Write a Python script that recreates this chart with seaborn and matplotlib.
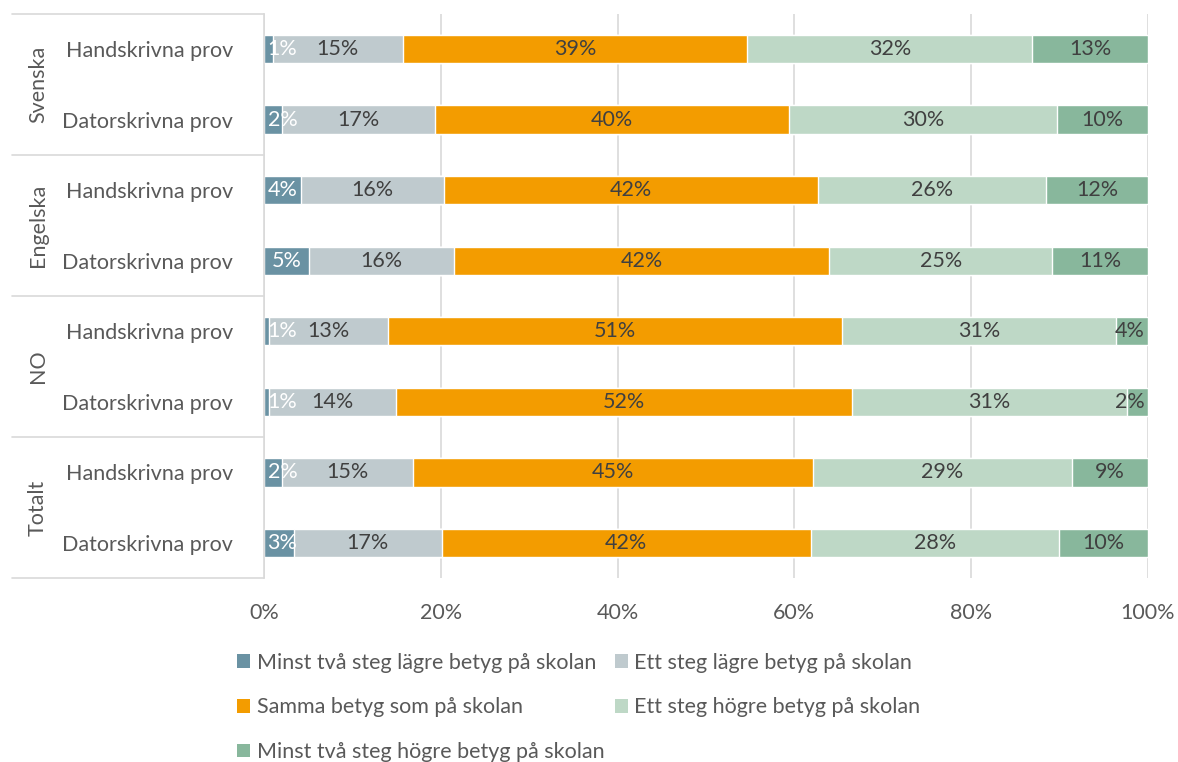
import numpy as np
import pandas as pd
import matplotlib
matplotlib.use('Agg')
import matplotlib.pyplot as plt
import matplotlib.transforms as mtransforms
from matplotlib.patches import Patch
import seaborn as sns

# data
groups = ['Svenska', 'Engelska', 'NO', 'Totalt']
rows = ['Handskrivna prov', 'Datorskrivna prov']
series = ['Minst två steg lägre betyg på skolan',
          'Ett steg lägre betyg på skolan',
          'Samma betyg som på skolan',
          'Ett steg högre betyg på skolan',
          'Minst två steg högre betyg på skolan']
minst_lagre = [1.0, 2.1, 4.2, 5.1, 0.6, 0.6, 2.0, 3.4]
ett_lagre = [14.7, 17.2, 16.2, 16.4, 13.4, 14.3, 14.9, 16.7]
samma = [39.0, 40.1, 42.3, 42.4, 51.4, 51.6, 45.2, 41.8]
ett_hogre = [32.2, 30.3, 25.8, 25.3, 31.0, 31.1, 29.3, 28.0]
minst_hogre = [13.1, 10.3, 11.5, 10.8, 3.6, 2.4, 8.6, 10.1]
colors = ['#6a92a3', '#bfcace', '#f39c00', '#bed8c6', '#88b79c']
text_colors = ['white', '#404040', '#404040', '#404040', '#404040']

sns.set_style('white')
plt.rcParams['font.family'] = ['Lato', 'DejaVu Sans']
fs = 15.5

keys = [f'{g}|{r}' for g in groups for r in rows]
vals = np.array([minst_lagre, ett_lagre, samma, ett_hogre, minst_hogre]).T
cum = np.cumsum(vals, axis=1)
df = pd.DataFrame(cum, columns=series)
df['key'] = keys

fig, ax = plt.subplots(figsize=(11.78, 7.62), dpi=100)
fig.subplots_adjust(left=0.224, right=0.9745, top=0.982, bottom=0.241)

# stacked bars: draw cumulative totals, largest first
for i in reversed(range(len(series))):
    sns.barplot(data=df, x=series[i], y='key', orient='h', color=colors[i],
                width=0.4, saturation=1, ax=ax, zorder=2)

# segment labels (kept inside the plot area like Excel does)
for r in range(len(keys)):
    for i in range(len(series)):
        left = cum[r, i] - vals[r, i]
        xc = min(max(left + vals[r, i] / 2, 2.1), 97.9)
        ax.text(xc, r, f'{vals[r, i]:.0f}%', ha='center', va='center',
                fontsize=fs, color=text_colors[i], zorder=3)

ax.set_xlim(0, 100)
ax.set_ylim(7.5, -0.5)
ax.set_xticks(np.arange(0, 101, 20))
ax.set_xticklabels([f'{t}%' for t in range(0, 101, 20)])
ax.set_yticks(range(len(keys)))
ax.set_yticklabels([k.split('|')[1] for k in keys])
ax.tick_params(axis='both', length=0, labelsize=fs, labelcolor='#595959')
ax.tick_params(axis='y', pad=22)
ax.tick_params(axis='x', pad=18)
ax.set_xlabel('')
ax.set_ylabel('')
ax.xaxis.grid(True, color='#d9d9d9', linewidth=1.2, zorder=0)
ax.set_axisbelow(True)
for s in ['top', 'right', 'bottom']:
    ax.spines[s].set_visible(False)
ax.spines['left'].set_color('#d9d9d9')
ax.spines['left'].set_linewidth(1.2)

# group labels and separators
trans = mtransforms.blended_transform_factory(ax.transAxes, ax.transData)
for gi, g in enumerate(groups):
    ax.text(-0.2557, gi * 2 + 0.5, g, rotation=90, ha='center', va='center',
            fontsize=fs, color='#595959', transform=trans)
for yb in np.arange(-0.5, 8, 2):
    ax.plot([-0.285, 0], [yb, yb], color='#d9d9d9', linewidth=1.2,
            transform=trans, clip_on=False)

handles = [Patch(facecolor=c, edgecolor='none') for c in colors]
order = [0, 2, 4, 1, 3]
fig.legend([handles[i] for i in order], [series[i] for i in order],
           loc='upper left', bbox_to_anchor=(0.185, 0.169), ncol=2, frameon=False,
           fontsize=fs, labelcolor='#595959', handlelength=0.6, handleheight=0.6,
           handletextpad=0.3, columnspacing=0.5, labelspacing=1.15)

fig.savefig('out.png', dpi=100)
